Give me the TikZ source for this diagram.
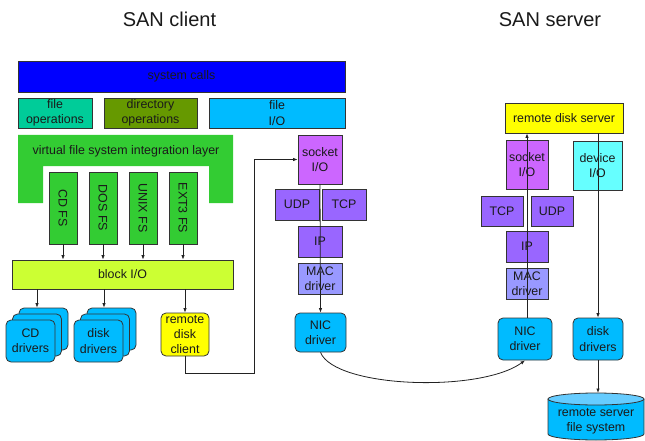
\documentclass[tikz,border=0pt]{standalone}
\usepackage{fontspec}
\setmainfont{Liberation Sans}
\usetikzlibrary{arrows.meta}
\definecolor{edgec}{HTML}{333333}
\definecolor{linec}{HTML}{222222}
\definecolor{textc}{HTML}{1A1A1A}
\definecolor{sysblue}{HTML}{0000FF}
\definecolor{fileops}{HTML}{00CC99}
\definecolor{dirops}{HTML}{669900}
\definecolor{skyblue}{HTML}{00BBFF}
\definecolor{vfsgreen}{HTML}{33CC33}
\definecolor{lime}{HTML}{CCFF33}
\definecolor{yel}{HTML}{FFFF00}
\definecolor{sockc}{HTML}{CC66FF}
\definecolor{protc}{HTML}{9966FF}
\definecolor{macc}{HTML}{9999FF}
\definecolor{devc}{HTML}{66FFFF}
\definecolor{cyltopc}{HTML}{66CCFF}
\begin{document}
\begin{tikzpicture}[x=1pt,y=-1pt, font=\fontsize{12.4}{15.2}\selectfont,
  box/.style={draw=edgec, line width=0.8pt, inner sep=0pt, align=center, text=textc},
  rbox/.style={box, rounded corners=5pt},
  arr/.style={draw=linec, line width=0.8pt, -{Latex[length=4.5pt,width=3.5pt]}},
  title/.style={font=\fontsize{20}{23}\selectfont, text=textc}]
\useasboundingbox (0,0) rectangle (645,441);

% titles
\node[title] (tclient) at (169.5,19.5) {SAN client};
\node[title] (tserver) at (550,19.5) {SAN server};

% client top layers
\node[box, fill=sysblue, minimum width=327pt, minimum height=31pt] (sys) at (181.5,76.5) {system calls};
\node[box, fill=fileops, minimum width=74pt, minimum height=30pt] (fops) at (55,113) {file\\operations};
\node[box, fill=dirops, minimum width=93pt, minimum height=30pt] (dops) at (150.5,113) {directory\\operations};
\node[box, fill=skyblue, minimum width=136pt, minimum height=30pt] (fio) at (277,113) {file\\I/O};

% VFS layer
\fill[vfsgreen] (18,135) -- (233,135) -- (233,203) -- (209,203) -- (209,166) -- (43,166) -- (43,203) -- (18,203) -- cycle;
\node[text=textc] (vfs) at (126,151) {virtual file system integration layer};

% file systems
\node[box, fill=vfsgreen, rotate=-90, minimum width=72pt, minimum height=28pt] (cdfs) at (63,208) {CD FS};
\node[box, fill=vfsgreen, rotate=-90, minimum width=72pt, minimum height=28pt] (dosfs) at (103,208) {DOS FS};
\node[box, fill=vfsgreen, rotate=-90, minimum width=72pt, minimum height=28pt] (unixfs) at (143,208) {UNIX FS};
\node[box, fill=vfsgreen, rotate=-90, minimum width=72pt, minimum height=28pt] (extfs) at (183,208) {EXT3 FS};

% block I/O
\node[box, fill=lime, minimum width=221pt, minimum height=29pt] (blockio) at (122.5,274.5) {block I/O};

% drivers (stacked)
\node[rbox, fill=skyblue, minimum width=49pt, minimum height=42pt] (cdb2) at (43.5,329) {};
\node[rbox, fill=skyblue, minimum width=49pt, minimum height=42pt] (cdb1) at (37,335) {};
\node[rbox, fill=skyblue, minimum width=49pt, minimum height=42pt] (cd) at (30.5,341) {CD\\drivers};
\node[rbox, fill=skyblue, minimum width=49pt, minimum height=42pt] (dkb2) at (111.5,329) {};
\node[rbox, fill=skyblue, minimum width=49pt, minimum height=42pt] (dkb1) at (105,335) {};
\node[rbox, fill=skyblue, minimum width=49pt, minimum height=42pt] (dk) at (98.5,341) {disk\\drivers};
\node[rbox, fill=yel, minimum width=48pt, minimum height=43pt] (rdc) at (185,334.5) {remote\\disk\\client};

% client network stack
\node[box, fill=sockc, minimum width=44pt, minimum height=49pt] (sock1) at (320,159.5) {socket\\I/O};
\node[box, fill=protc, minimum width=44pt, minimum height=31pt] (udp1) at (297,204.5) {UDP};
\node[box, fill=protc, minimum width=44pt, minimum height=31pt] (tcp1) at (344,204.5) {TCP};
\node[box, fill=protc, minimum width=44pt, minimum height=31pt] (ip1) at (320,241.5) {IP};
\node[box, fill=macc, minimum width=44pt, minimum height=31pt] (mac1) at (320,278.5) {MAC\\driver};
\node[rbox, fill=skyblue, minimum width=51pt, minimum height=39pt] (nic1) at (320.5,332.5) {NIC\\driver};

% server
\node[box, fill=yel, minimum width=118pt, minimum height=30pt] (rds) at (564,118) {remote disk server};
\node[box, fill=sockc, minimum width=42pt, minimum height=49pt] (sock2) at (527,164.5) {socket\\I/O};
\node[box, fill=devc, minimum width=49pt, minimum height=49pt] (devio) at (597.5,165.5) {device\\I/O};
\node[box, fill=protc, minimum width=42pt, minimum height=30pt] (tcp2) at (502,211) {TCP};
\node[box, fill=protc, minimum width=42pt, minimum height=30pt] (udp2) at (552,211) {UDP};
\node[box, fill=protc, minimum width=42pt, minimum height=31pt] (ip2) at (527,246.5) {IP};
\node[box, fill=macc, minimum width=42pt, minimum height=31pt] (mac2) at (527,283.5) {MAC\\driver};
\node[rbox, fill=skyblue, minimum width=54pt, minimum height=42pt] (nic2) at (525,339) {NIC\\driver};
\node[rbox, fill=skyblue, minimum width=50pt, minimum height=42pt] (disk2) at (598,339) {disk\\drivers};

% cylinder
\fill[skyblue] (548,399) -- (548,434) arc[start angle=180, end angle=360, x radius=48pt, y radius=6pt] -- (644,399) -- cycle;
\draw[edgec, line width=0.8pt] (548,399) -- (548,434) arc[start angle=180, end angle=360, x radius=48pt, y radius=6pt] -- (644,399);
\draw[edgec, line width=0.8pt, fill=cyltopc] (596,399) ellipse [x radius=48pt, y radius=6pt];
\node[text=textc, align=center] (rsfs) at (596,421) {remote server\\file system};
\coordinate (cyltop) at (598,393);

% connectors
\draw[arr] (cdfs.east) -- (cdfs.east |- blockio.north);
\draw[arr] (dosfs.east) -- (dosfs.east |- blockio.north);
\draw[arr] (unixfs.east) -- (unixfs.east |- blockio.north);
\draw[arr] (extfs.east) -- (extfs.east |- blockio.north);
\draw[arr] ([xshift=-6.5pt]cdb2.north |- blockio.south) -- ([xshift=-6.5pt]cdb2.north);
\draw[arr] ([xshift=-7.5pt]dkb2.north |- blockio.south) -- ([xshift=-7.5pt]dkb2.north);
\draw[arr] (rdc.north |- blockio.south) -- (rdc.north);
\coordinate (c1) at (254,373);
\draw[arr] (rdc.south) |- (c1) |- (sock1.west);
\draw[arr] (sock1.south) -- (nic1.north);
\draw[arr] (nic1.south) .. controls (335,388) and (480,393) .. (nic2.south);
\draw[arr] (sock2.center |- nic2.north) -- (sock2.center |- rds.south);
\draw[arr] (disk2.north |- rds.south) -- (disk2.north);
\draw[arr] (disk2.south) -- (cyltop);
\end{tikzpicture}
\end{document}
